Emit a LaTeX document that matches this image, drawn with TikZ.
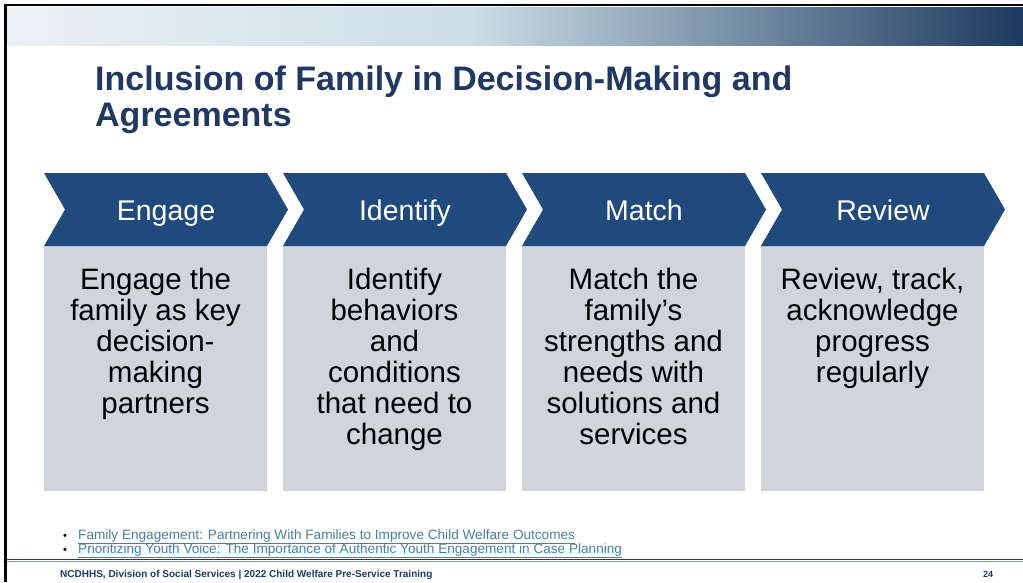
\documentclass[tikz,border=0pt]{standalone}
\usepackage{fontspec}
\setmainfont{Liberation Sans}
\usetikzlibrary{positioning}
\definecolor{navy}{RGB}{31,56,100}
\definecolor{chevblue}{RGB}{32,74,126}
\definecolor{boxgray}{RGB}{208,212,221}
\definecolor{linkblue}{RGB}{74,126,160}
\definecolor{barlight}{RGB}{234,240,246}
\definecolor{barmid}{RGB}{204,222,230}
\definecolor{bardark}{RGB}{28,58,96}

\begin{document}
\begin{tikzpicture}[x=1pt,y=-1pt,
  chev/.style={fill=chevblue},
  gbox/.style={fill=boxgray,minimum width=223pt,minimum height=245pt,inner sep=0pt},
  hd/.style={anchor=base,inner sep=0pt,text=white,font=\fontsize{28.5}{31}\selectfont},
  txt/.style={anchor=north,align=center,inner sep=0pt,font=\fontsize{29.5}{31}\selectfont},
  lnk/.style={anchor=base west,inner sep=0pt,text=linkblue,font=\fontsize{13.6}{15}\selectfont}]
\useasboundingbox (0,0) rectangle (1023,582);
\fill[white] (0,0) rectangle (1023,582);

% banner and frame
\shade[left color=barlight,right color=barmid] (7,7) rectangle (470,45);
\shade[left color=barmid,right color=bardark] (470,7) rectangle (1023,45);
\draw[line width=2.2pt] (5.5,582) -- (5.5,5) -- (1023,5);

% title
\node[anchor=base west,inner sep=0pt,text=navy,font=\bfseries\fontsize{34}{36}\selectfont] (t1) at (95,90) {Inclusion of Family in Decision-Making and};
\node[anchor=base west,inner sep=0pt,text=navy,font=\bfseries\fontsize{34}{36}\selectfont] (t2) at (95,126) {Agreements};

% gray boxes
\node[gbox] (b1) at (155.5,368.5) {};
\node[gbox] (b2) at (394.5,368.5) {};
\node[gbox] (b3) at (633.5,368.5) {};
\node[gbox] (b4) at (872.5,368.5) {};

% chevrons
\fill[chev] (44,173) -- ++(223,0) -- ++(21,36.5) -- ++(-21,36.5) -- ++(-223,0) -- ++(21,-36.5) -- cycle;
\fill[chev] (283,173) -- ++(223,0) -- ++(21,36.5) -- ++(-21,36.5) -- ++(-223,0) -- ++(21,-36.5) -- cycle;
\fill[chev] (522,173) -- ++(223,0) -- ++(21,36.5) -- ++(-21,36.5) -- ++(-223,0) -- ++(21,-36.5) -- cycle;
\fill[chev] (761,173) -- ++(223,0) -- ++(21,36.5) -- ++(-21,36.5) -- ++(-223,0) -- ++(21,-36.5) -- cycle;
\node[hd] (h1) at (166,220) {Engage};
\node[hd] (h2) at (405,220) {Identify};
\node[hd] (h3) at (644,220) {Match};
\node[hd] (h4) at (883,220) {Review};

% box texts
\node[txt] (x1) at (155.5,268) {Engage the\\family as key\\decision-\\making\\partners};
\node[txt] (x2) at (394.5,268) {Identify\\behaviors\\and\\conditions\\that need to\\change};
\node[txt] (x3) at (633.5,268) {Match the\\family’s\\strengths and\\needs with\\solutions and\\services};
\node[txt] (x4) at (872.5,268) {Review, track,\\acknowledge\\progress\\regularly};

% links
\node[anchor=base,inner sep=0pt,font=\fontsize{11}{12}\selectfont] (u1) at (65,539) {•};
\node[anchor=base,inner sep=0pt,font=\fontsize{11}{12}\selectfont] (u2) at (65,553) {•};
\node[lnk] (l1) at (78,539) {\underline{Family Engagement: Partnering With Families to Improve Child Welfare Outcomes}};
\node[lnk] (l2) at (78,553) {\underline{Prioritizing Youth Voice: The Importance of Authentic Youth Engagement in Case Planning}};

% footer
\draw[navy,line width=1.6pt] (7,559.5) -- (1023,559.5);
\draw[navy!50,line width=0.8pt] (7,561.6) -- (1023,561.6);
\node[anchor=base west,inner sep=0pt,text=navy,font=\bfseries\fontsize{10}{12}\selectfont] (f1) at (60,577) {NCDHHS, Division of Social Services | 2022 Child Welfare Pre-Service Training};
\node[anchor=base,inner sep=0pt,text=navy,font=\bfseries\fontsize{9}{10}\selectfont] (pg) at (988,577) {24};
\end{tikzpicture}
\end{document}
